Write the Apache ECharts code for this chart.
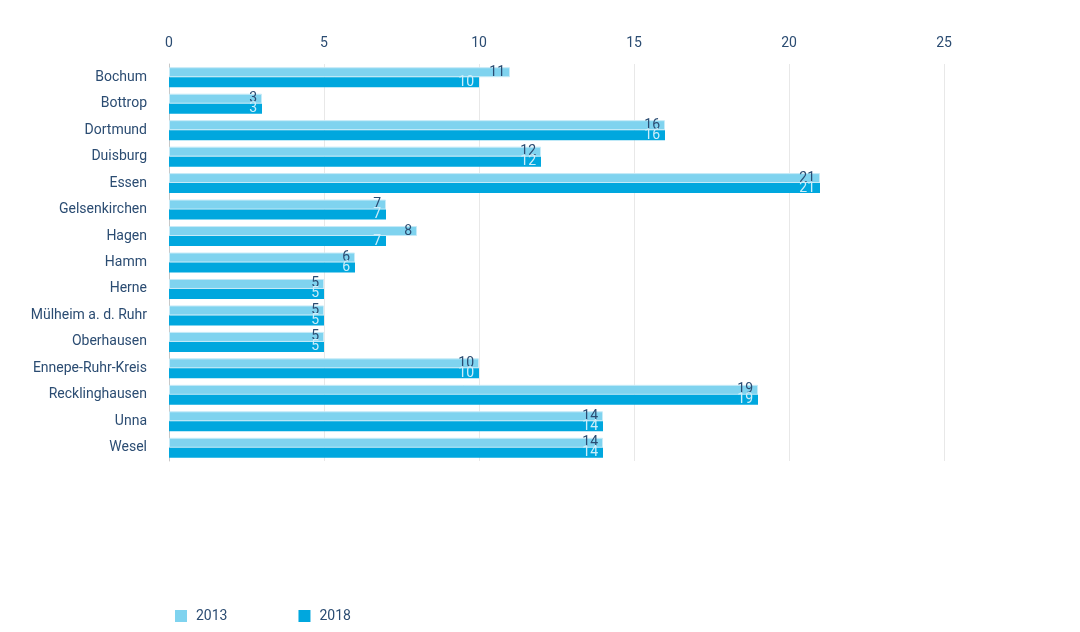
<!DOCTYPE html>
<html><head><meta charset="utf-8">
<script src="https://cdn.jsdelivr.net/npm/echarts@6/dist/echarts.min.js"></script>
<style>html,body{margin:0;padding:0;background:#fff}#c{width:1080px;height:632px}</style>
</head><body><div id="c"></div>
<script>
const categories = ["Bochum","Bottrop","Dortmund","Duisburg","Essen","Gelsenkirchen","Hagen","Hamm","Herne","Mülheim a. d. Ruhr","Oberhausen","Ennepe-Ruhr-Kreis","Recklinghausen","Unna","Wesel"];
const values2013 = [11,3,16,12,21,7,8,6,5,5,5,10,19,14,14];
const values2018 = [10,3,16,12,21,7,7,6,5,5,5,10,19,14,14];
const seriesNames = ["2013","2018"];
const textColor = "#2b4c72";
const font = "Roboto";
const chart = echarts.init(document.getElementById('c'));
chart.setOption({
  animation:false,
  textStyle:{fontFamily:font},
  grid:{left:169,right:136,top:64,bottom:171,containLabel:false},
  legend:{bottom:4,left:170,itemWidth:12,itemHeight:12,itemGap:71,icon:'rect',
    itemStyle:{borderWidth:0},
    textStyle:{color:textColor,fontSize:14,fontFamily:font,padding:[0,0,0,4]},data:seriesNames},
  xAxis:{type:'value',position:'top',min:0,max:25,interval:5,
    axisLabel:{color:textColor,fontSize:14,margin:14,fontFamily:font},
    axisLine:{show:false},axisTick:{show:false},
    splitLine:{lineStyle:{color:'#e8e8e8'}}},
  yAxis:{type:'category',inverse:true,data:categories,
    axisLabel:{color:textColor,fontSize:14,margin:22,fontFamily:font},
    axisLine:{lineStyle:{color:'#c8c8c8'}},axisTick:{show:false}},
  series:[
    {name:'2013',type:'bar',data:values2013,barWidth:10,barGap:'0%',
     itemStyle:{color:'#7fd3ef',borderColor:'#c6ebf8',borderWidth:1},
     label:{show:true,position:'insideRight',color:'#2b4c72',fontSize:14,offset:[0,0],fontFamily:font}},
    {name:'2018',type:'bar',data:values2018,barWidth:10,
     itemStyle:{color:'#00a7de'},
     label:{show:true,position:'insideRight',color:'#cdeefa',fontSize:14,offset:[0,0],fontFamily:font}}
  ]
});
</script></body></html>
